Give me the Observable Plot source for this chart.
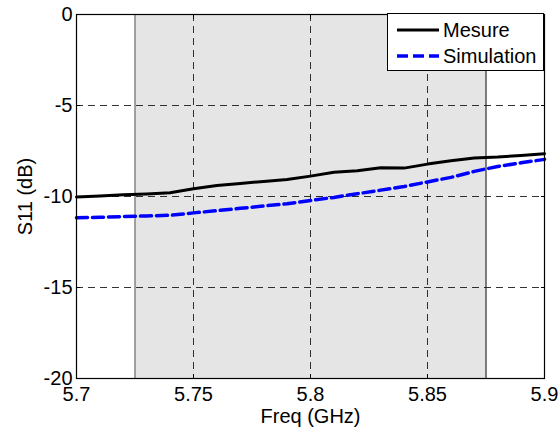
<!DOCTYPE html>
<html><head><meta charset="utf-8">
<script src="https://cdn.jsdelivr.net/npm/d3@7"></script>
<script src="https://cdn.jsdelivr.net/npm/@observablehq/plot@0.6"></script>
<style>
body{margin:0;background:#fff;font-family:"Liberation Sans",Arial,sans-serif;}
#wrap{position:relative;width:559px;height:432px;}
#legend{position:absolute;left:387px;top:13px;width:157px;height:58px;border:1px solid #000;background:#fff;box-sizing:border-box;}
</style></head><body>
<div id="wrap"></div>
<script>
const freq = [5.70,5.71,5.72,5.73,5.74,5.75,5.76,5.77,5.78,5.79,5.80,5.81,5.82,5.83,5.84,5.85,5.86,5.87,5.88,5.89,5.90];
const mesure = [-10.03,-9.97,-9.91,-9.86,-9.79,-9.57,-9.40,-9.28,-9.17,-9.07,-8.88,-8.67,-8.58,-8.42,-8.44,-8.22,-8.03,-7.88,-7.83,-7.75,-7.65];
const simulation = [-11.17,-11.14,-11.10,-11.07,-11.03,-10.90,-10.78,-10.65,-10.52,-10.40,-10.22,-10.05,-9.85,-9.65,-9.45,-9.20,-8.95,-8.62,-8.35,-8.15,-7.96];
const band = [5.725, 5.875];
const xTicks = [5.7, 5.75, 5.8, 5.85, 5.9];
const yTicks = [-20, -15, -10, -5, 0];
const xGrid = [5.75, 5.8, 5.85];
const yGrid = [-15, -10, -5];
const seriesNames = ["Mesure", "Simulation"];
const seriesColors = ["#000000", "#0000ff"];

const mesData = freq.map((f, i) => ({f, v: mesure[i]}));
const simData = freq.map((f, i) => ({f, v: simulation[i]}));
const bandData = [{x1: band[0], x2: band[1]}];

const chart = Plot.plot({
  width: 559, height: 432,
  marginLeft: 76, marginRight: 15, marginTop: 14, marginBottom: 54,
  style: {fontSize: "20px", fontFamily: "'Liberation Sans', Arial, sans-serif", background: "white", color: "black"},
  x: {domain: [5.7, 5.9]},
  y: {domain: [-20, 0]},
  marks: [
    Plot.rectX(bandData, {x1: "x1", x2: "x2", fill: "#e5e5e5"}),
    Plot.ruleX([band[0]], {stroke: "#555", strokeWidth: 1}),
    Plot.ruleX([band[1]], {stroke: "#000", strokeWidth: 1}),
    Plot.gridX(xGrid, {stroke: "#000", strokeOpacity: 1, strokeWidth: 0.8, strokeDasharray: "7,5"}),
    Plot.gridY(yGrid, {stroke: "#000", strokeOpacity: 1, strokeWidth: 0.8, strokeDasharray: "7,5"}),
    Plot.line(mesData, {x: "f", y: "v", stroke: seriesColors[0], strokeWidth: 3}),
    Plot.line(simData, {x: "f", y: "v", stroke: seriesColors[1], strokeWidth: 3.5, strokeDasharray: "11,5"}),
    Plot.frame({stroke: "#000", strokeWidth: 1.2}),
    Plot.axisX(xTicks, {anchor: "bottom", tickSize: -4, tickPadding: 12, tickFormat: d => String(d), label: "Freq (GHz)", labelAnchor: "center", labelOffset: 44, labelArrow: "none"}),
    Plot.axisX(xTicks, {anchor: "top", tickSize: -4, tickFormat: () => "", label: null}),
    Plot.axisY(yTicks, {anchor: "left", tickSize: -4, tickPadding: 8, tickFormat: d => String(d), label: "S11 (dB)", labelAnchor: "center", labelOffset: 59, labelArrow: "none"}),
    Plot.axisY(yTicks, {anchor: "right", tickSize: -4, tickFormat: () => "", label: null})
  ]
});
const wrap = document.getElementById("wrap");
wrap.appendChild(chart);

// Legend
const leg = document.createElement("div");
leg.id = "legend";
const ns = "http://www.w3.org/2000/svg";
const lsvg = document.createElementNS(ns, "svg");
lsvg.setAttribute("width", 155); lsvg.setAttribute("height", 56);
lsvg.style.display = "block";
seriesNames.forEach((name, i) => {
  const cy = 16 + i * 26;
  const ln = document.createElementNS(ns, "line");
  ln.setAttribute("x1", 9); ln.setAttribute("x2", 51);
  ln.setAttribute("y1", cy); ln.setAttribute("y2", cy);
  ln.setAttribute("stroke", seriesColors[i]);
  ln.setAttribute("stroke-width", i === 0 ? 3 : 3.5);
  if (i === 1) ln.setAttribute("stroke-dasharray", "11,5");
  lsvg.appendChild(ln);
  const t = document.createElementNS(ns, "text");
  t.setAttribute("x", 55); t.setAttribute("y", cy);
  t.setAttribute("dy", "0.35em");
  t.setAttribute("font-size", "20px");
  t.setAttribute("font-family", "'Liberation Sans', Arial, sans-serif");
  t.textContent = name;
  lsvg.appendChild(t);
});
leg.appendChild(lsvg);
wrap.appendChild(leg);
</script>
</body></html>
